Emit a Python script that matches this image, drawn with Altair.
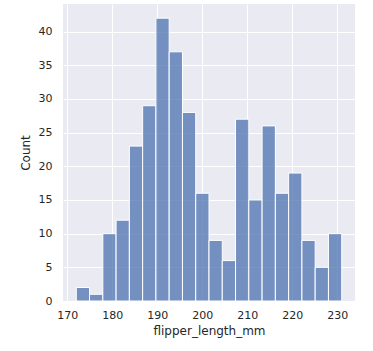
import altair as alt
import pandas as pd

bin_start = [172.0, 174.95, 177.9, 180.85, 183.8, 186.75, 189.7, 192.65, 195.6, 198.55,
             201.5, 204.45, 207.4, 210.35, 213.3, 216.25, 219.2, 222.15, 225.1, 228.05]
bin_end = [174.95, 177.9, 180.85, 183.8, 186.75, 189.7, 192.65, 195.6, 198.55, 201.5,
           204.45, 207.4, 210.35, 213.3, 216.25, 219.2, 222.15, 225.1, 228.05, 231.0]
counts = [2, 1, 10, 12, 23, 29, 42, 37, 28, 16, 9, 6, 27, 15, 26, 16, 19, 9, 5, 10]

df = pd.DataFrame({"start": bin_start, "end": bin_end, "count": counts})

font = "DejaVu Sans"

chart = alt.Chart(df).mark_bar(
    color="#4C72B0", fillOpacity=0.75, stroke="white", strokeWidth=1
).encode(
    x=alt.X("start:Q",
            scale=alt.Scale(domain=[169.05, 233.95], nice=False, zero=False),
            axis=alt.Axis(title="flipper_length_mm", values=[170, 180, 190, 200, 210, 220, 230],
                          format="d", labelPadding=8, titlePadding=5)),
    x2="end:Q",
    y=alt.Y("count:Q",
            scale=alt.Scale(domain=[0, 44.1], nice=False),
            axis=alt.Axis(title="Count", values=[0, 5, 10, 15, 20, 25, 30, 35, 40],
                          labelPadding=11, titlePadding=6)),
    y2=alt.datum(0),
).properties(
    width=292, height=297,
    autosize=alt.AutoSizeParams(type="none"),
    padding={"left": 63, "top": 4, "right": 18, "bottom": 50},
    background="white",
).configure_view(
    fill="#EAEAF2", stroke=None
).configure_axis(
    grid=True, gridColor="white", gridWidth=1, domain=False, ticks=False,
    labelFont=font, labelFontSize=11, labelColor="#262626",
    titleFont=font, titleFontSize=12, titleColor="#262626", titleFontWeight="normal",
)

chart.save("out.html", embed_options={"renderer": "svg", "actions": False})
